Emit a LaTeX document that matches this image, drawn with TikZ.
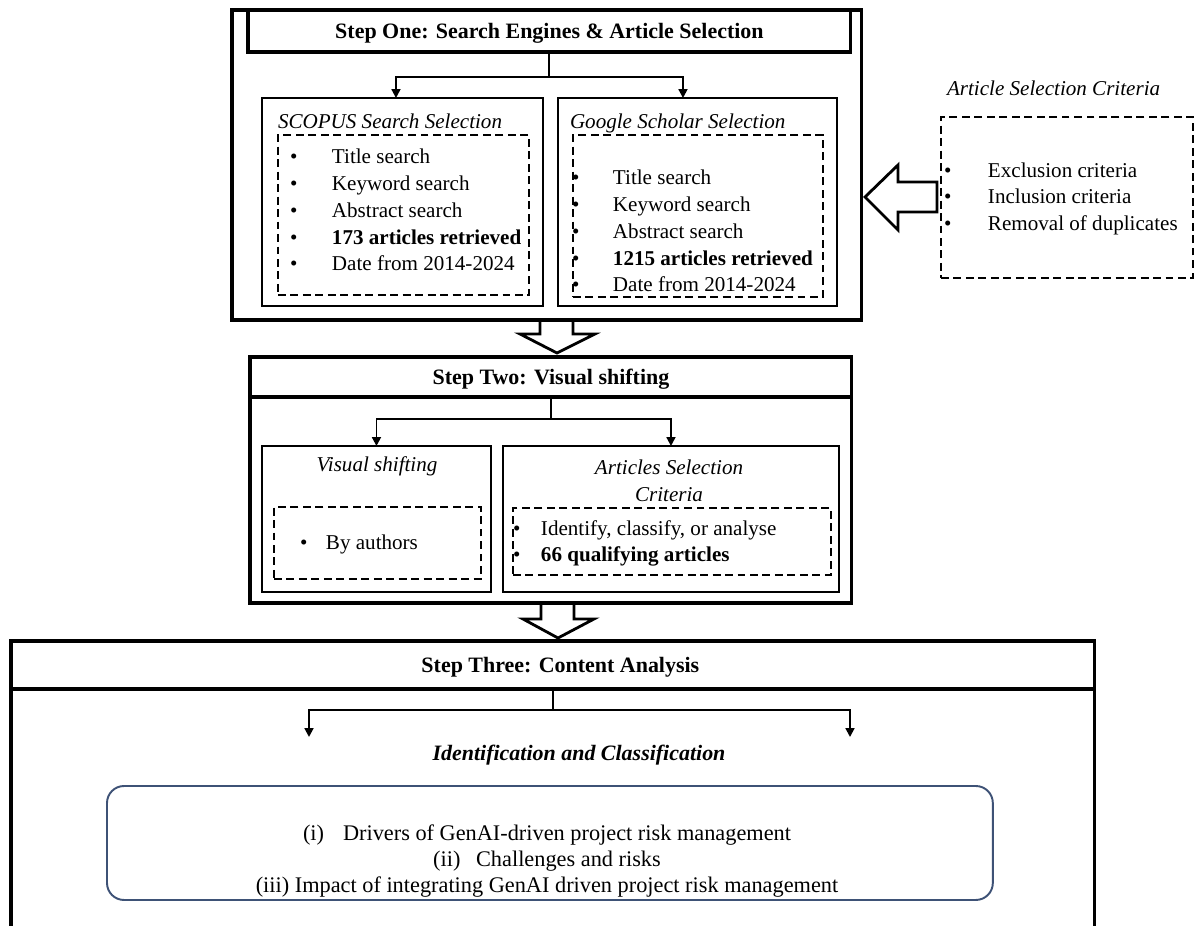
\documentclass[tikz,border=0pt]{standalone}
\usepackage{fontspec}
\setmainfont{Liberation Serif}
\usetikzlibrary{arrows.meta}
\definecolor{findcol}{RGB}{62,82,118}

\begin{document}
\begin{tikzpicture}[x=0.02cm,y=-0.02cm]
\tikzstyle{every node}+=[inner sep=0pt, outer sep=0pt, font=\fontsize{12}{15.2}\selectfont]
\tikzstyle{stepbox}=[draw, line width=1.8pt, anchor=north west, text depth=0pt, font=\fontsize{12.5}{15}\selectfont\bfseries]
\tikzstyle{subbox}=[draw, line width=1.3pt, anchor=north west]
\tikzstyle{dashbox}=[draw, line width=1.1pt, dash pattern=on 4.5pt off 2.6pt, anchor=north west]
\tikzstyle{conn}=[line width=1.1pt, -{Triangle[length=5pt,width=5pt]}]
\tikzstyle{hollow}=[line width=1.6pt, line join=miter]
\useasboundingbox (0,0) rectangle (1194,926);
\clip (0,0) rectangle (1194,926);
% step one
\node[stepbox, minimum width=12.6cm, minimum height=6.2cm] (one) at (232,10) {};
\node[stepbox, minimum width=12.06cm, minimum height=0.84cm] (onehead) at (248,10) {Step One: Search Engines \& Article Selection};
\node[subbox, minimum width=5.62cm, minimum height=4.16cm] (scopus) at (262,98) {};
\node[subbox, minimum width=5.58cm, minimum height=4.16cm] (google) at (558,98) {};
\node[dashbox, minimum width=5.02cm, minimum height=3.2cm] (scopusin) at (278,135) {};
\node[dashbox, minimum width=5.0cm, minimum height=3.24cm] (googlein) at (573,135) {};
\node[anchor=west] (scopustitle) at (278,121) {\textit{SCOPUS Search Selection}};
\node[anchor=west] (googletitle) at (570,123) {\textit{Google Scholar Selection}};
\node[anchor=base west] (scopuslist) at (290,164) {\begin{tabular}[t]{@{}p{0.84cm}@{}l@{}}
\textbullet & Title search\\
\textbullet & Keyword search\\
\textbullet & Abstract search\\
\textbullet & \textbf{173 articles retrieved}\\
\textbullet & Date from 2014-2024
\end{tabular}};
\node[anchor=base west] (googlelist) at (572,185) {\begin{tabular}[t]{@{}p{0.82cm}@{}l@{}}
\textbullet & Title search\\
\textbullet & Keyword search\\
\textbullet & Abstract search\\
\textbullet & \textbf{1215 articles retrieved}\\
\textbullet & Date from 2014-2024
\end{tabular}};
\draw[conn] (onehead.south) -- ++(0,25) -| ([xshift=-0.13cm]scopus.north);
\draw[conn] (onehead.south) -- ++(0,25) -| ([xshift=-0.29cm]google.north);
% selection criteria on the right
\node[anchor=west] (crittitle) at (947,88) {\textit{Article Selection Criteria}};
\node[dashbox, minimum width=5.04cm, minimum height=3.22cm] (crit) at (941,117) {};
\node[anchor=base west] (critlist) at (944,177) {\begin{tabular}[t]{@{}p{0.88cm}@{}l@{}}
\textbullet & Exclusion criteria\\
\textbullet & Inclusion criteria\\
\textbullet & Removal of duplicates
\end{tabular}};
\draw[hollow] (937,182) -- (898,182) -- (898,165) -- (865,197) -- (898,230) -- (898,212) -- (937,212) -- cycle;
\draw[hollow] (540,320) -- (540,334) -- (520,334) -- (557,353) -- (595,334) -- (573,334) -- (573,320);
% step two
\node[stepbox, minimum width=12.04cm, minimum height=4.92cm] (two) at (250,357) {};
\node[stepbox, minimum width=12.04cm, minimum height=0.8cm] (twohead) at (250,357) {Step Two: Visual shifting};
\node[subbox, minimum width=4.58cm, minimum height=2.92cm] (visual) at (262,446) {};
\node[subbox, minimum width=6.72cm, minimum height=2.92cm] (artsel) at (503,446) {};
\node (visualtitle) at (377,466) {\textit{Visual shifting}};
\node[align=center] (arttitle) at (669,481) {\textit{Articles Selection}\\\textit{Criteria}};
\node[dashbox, minimum width=4.14cm, minimum height=1.44cm] (visualin) at (274,507) {};
\node[dashbox, minimum width=6.36cm, minimum height=1.34cm] (artselin) at (513,508) {};
\node[anchor=base west] (visuallist) at (300,549) {\begin{tabular}[t]{@{}p{0.52cm}@{}l@{}}
\textbullet & By authors
\end{tabular}};
\node[anchor=base west] (artlist) at (513,535) {\begin{tabular}[t]{@{}p{0.56cm}@{}l@{}}
\textbullet & Identify, classify, or analyse\\
\textbullet & \textbf{66 qualifying articles}
\end{tabular}};
\draw[conn] (twohead.south) -- ++(0,22) -| (visual.north);
\draw[conn] (twohead.south) -- ++(0,22) -| (artsel.north);
\draw[hollow] (541,603) -- (541,619) -- (523,619) -- (558,638) -- (594,619) -- (574,619) -- (574,603);
% step three
\node[stepbox, minimum width=21.68cm, minimum height=6.6cm] (three) at (11,641) {};
\node[stepbox, minimum width=21.68cm, minimum height=0.96cm] (threehead) at (11,641) {\hspace{0.3cm}Step Three: Content Analysis};
\coordinate (lefttip) at (309,737);
\coordinate (righttip) at (850,737);
\draw[conn] (threehead.south) -- ++(0,21) -| (lefttip);
\draw[conn] (threehead.south) -- ++(0,21) -| (righttip);
\node[font=\fontsize{12.5}{15}\selectfont] (idclass) at (579,755) {\textbf{\textit{Identification and Classification}}};
\node[draw=findcol, line width=1.1pt, rounded corners=0.34cm, minimum width=17.72cm, minimum height=2.28cm, anchor=north west] (findings) at (107,786) {};
\node[align=center, font=\fontsize{12.7}{14.6}\selectfont] (findtext) at (547,861) {(i)\hspace{0.85em}Drivers of GenAI-driven project risk management\\
(ii)\hspace{0.7em}Challenges and risks\\
(iii) Impact of integrating GenAI driven project risk management};
\end{tikzpicture}
\end{document}
